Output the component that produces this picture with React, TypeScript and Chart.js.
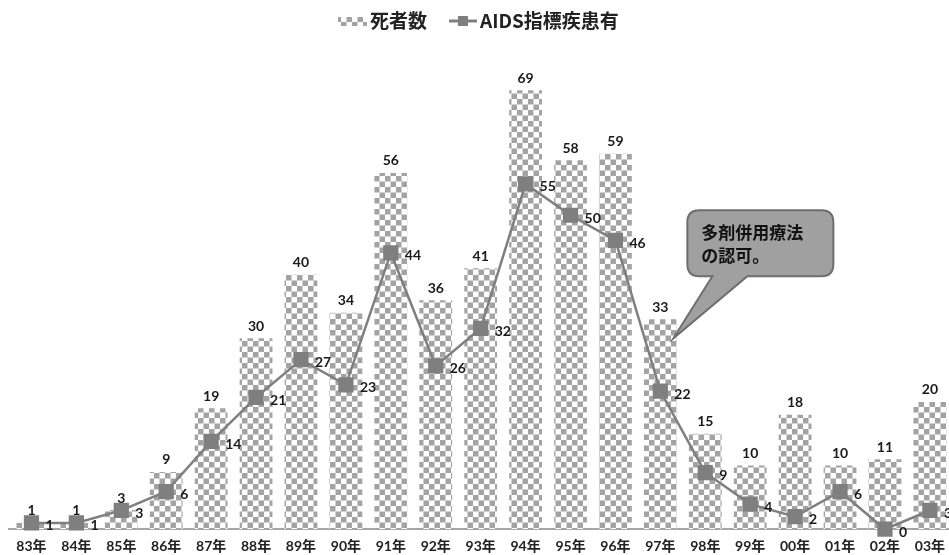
import React, { useEffect, useRef } from "react";
import { Chart, registerables } from "chart.js";

Chart.register(...registerables);

const categories = ["83年", "84年", "85年", "86年", "87年", "88年", "89年", "90年", "91年", "92年", "93年", "94年", "95年", "96年", "97年", "98年", "99年", "00年", "01年", "02年", "03年"];
const deaths = [1, 1, 3, 9, 19, 30, 40, 34, 56, 36, 41, 69, 58, 59, 33, 15, 10, 18, 10, 11, 20];
const aidsCases = [1, 1, 3, 6, 14, 21, 27, 23, 44, 26, 32, 55, 50, 46, 22, 9, 4, 2, 6, 0, 3];
const legendLabels = ["死者数", "AIDS指標疾患有"];
const calloutLines = ["多剤併用療法", "の認可。"];
const calloutIndex = 14;
const calloutValue = 30;

const FONT = "'Lato', 'Noto Sans CJK JP', sans-serif";
const CJK = "'Noto Sans CJK JP', 'Lato', sans-serif";
const GRAY = "#a3a3a3";
const LINE_GRAY = "#7f7f7f";

function makePattern(ctx: CanvasRenderingContext2D) {
  const c = document.createElement("canvas");
  c.width = 11;
  c.height = 11;
  const g = c.getContext("2d")!;
  g.fillStyle = "#ffffff";
  g.fillRect(0, 0, 11, 11);
  g.fillStyle = GRAY;
  g.fillRect(0, 0, 5.5, 5.5);
  g.fillRect(5.5, 5.5, 5.5, 5.5);
  return ctx.createPattern(c, "repeat")!;
}

export default function App() {
  const ref = useRef<HTMLCanvasElement>(null);

  useEffect(() => {
    const canvas = ref.current!;
    const ctx0 = canvas.getContext("2d")!;
    const pattern = makePattern(ctx0);

    const labelPlugin = {
      id: "labels",
      afterDatasetsDraw(chart: any) {
        const ctx = chart.ctx as CanvasRenderingContext2D;
        ctx.save();
        ctx.fillStyle = "#1a1a1a";
        ctx.font = `bold 14px ${FONT}`;
        const barMeta = chart.getDatasetMeta(1);
        barMeta.data.forEach((el: any, i: number) => {
          ctx.textAlign = "center";
          ctx.textBaseline = "bottom";
          ctx.fillText(String(deaths[i]), el.x, el.y - 5);
        });
        const lineMeta = chart.getDatasetMeta(0);
        lineMeta.data.forEach((el: any, i: number) => {
          ctx.textAlign = "left";
          ctx.textBaseline = "middle";
          ctx.fillText(String(aidsCases[i]), el.x + 14, el.y + 3);
        });
        ctx.restore();
      },
      afterDraw(chart: any) {
        const ctx = chart.ctx as CanvasRenderingContext2D;
        const xs = chart.scales.x;
        const ys = chart.scales.y;
        // callout
        const tipX = xs.getPixelForValue(calloutIndex) + 13;
        const tipY = ys.getPixelForValue(calloutValue);
        const bx = tipX + 14;
        const by = tipY - 128;
        const bw = 146;
        const bh = 66;
        const r = 12;
        const t1 = bx + 25;
        const t2 = bx + 60;
        ctx.save();
        ctx.beginPath();
        ctx.moveTo(bx + r, by);
        ctx.lineTo(bx + bw - r, by);
        ctx.quadraticCurveTo(bx + bw, by, bx + bw, by + r);
        ctx.lineTo(bx + bw, by + bh - r);
        ctx.quadraticCurveTo(bx + bw, by + bh, bx + bw - r, by + bh);
        ctx.lineTo(t2, by + bh);
        ctx.lineTo(tipX, tipY);
        ctx.lineTo(t1, by + bh);
        ctx.lineTo(bx + r, by + bh);
        ctx.quadraticCurveTo(bx, by + bh, bx, by + bh - r);
        ctx.lineTo(bx, by + r);
        ctx.quadraticCurveTo(bx, by, bx + r, by);
        ctx.closePath();
        ctx.fillStyle = "#a0a0a0";
        ctx.fill();
        ctx.lineWidth = 2;
        ctx.strokeStyle = "#6e6e6e";
        ctx.stroke();
        ctx.fillStyle = "#111";
        ctx.font = `bold 17px ${CJK}`;
        ctx.textAlign = "left";
        ctx.textBaseline = "middle";
        ctx.fillText(calloutLines[0], bx + 14, by + 22);
        ctx.fillText(calloutLines[1], bx + 14, by + 45);
        ctx.restore();

        // legend
        ctx.save();
        ctx.font = `bold 19px ${CJK}`;
        ctx.textBaseline = "middle";
        ctx.textAlign = "left";
        const cy = 21;
        let x = 338;
        ctx.fillStyle = pattern;
        ctx.fillRect(x, cy - 4, 29, 9);
        x += 32;
        ctx.fillStyle = "#222";
        ctx.fillText(legendLabels[0], x, cy);
        x += ctx.measureText(legendLabels[0]).width + 22;
        ctx.strokeStyle = LINE_GRAY;
        ctx.lineWidth = 3;
        ctx.beginPath();
        ctx.moveTo(x, cy);
        ctx.lineTo(x + 28, cy);
        ctx.stroke();
        ctx.fillStyle = LINE_GRAY;
        ctx.fillRect(x + 9, cy - 5, 10, 10);
        x += 31;
        ctx.fillStyle = "#222";
        ctx.fillText(legendLabels[1], x, cy);
        ctx.restore();
      },
    };

    const chart = new Chart(canvas, {
      type: "bar",
      data: {
        labels: categories,
        datasets: [
          {
            type: "line",
            label: legendLabels[1],
            data: aidsCases,
            yAxisID: "y1",
            borderColor: LINE_GRAY,
            backgroundColor: LINE_GRAY,
            borderWidth: 2.5,
            pointStyle: "rect",
            pointRadius: 9,
            pointBackgroundColor: LINE_GRAY,
            pointBorderColor: LINE_GRAY,
            tension: 0,
            clip: false,
            order: 1,
          } as any,
          {
            type: "bar",
            label: legendLabels[0],
            data: deaths,
            yAxisID: "y",
            backgroundColor: pattern as any,
            borderWidth: 0,
            categoryPercentage: 1,
            barPercentage: 0.73,
            order: 2,
          },
        ],
      },
      options: {
        animation: false,
        responsive: false,
        maintainAspectRatio: false,
        devicePixelRatio: 1,
        layout: { autoPadding: false, padding: { left: 9, right: 0, top: 52, bottom: -9 } } as any,
        plugins: {
          legend: { display: false },
          tooltip: { enabled: false },
        },
        scales: {
          x: {
            offset: true,
            grid: { display: false, drawTicks: false },
            border: { display: true, color: "#a6a6a6", width: 2 },
            ticks: {
              color: "#222",
              font: { family: FONT, size: 14, weight: "bold" },
              padding: 9,
              maxRotation: 0,
              autoSkip: false,
            },
          },
          y: {
            display: false,
            min: 0,
            max: 75,
          },
          y1: {
            display: false,
            min: 0,
            max: 76,
          },
        },
      },
      plugins: [labelPlugin],
    });
    return () => chart.destroy();
  }, []);

  return (
    <div style={{ position: "absolute", left: 0, top: 0, width: 949, height: 555, overflow: "hidden", background: "#fff" }}>
      <canvas ref={ref} width={954} height={555} style={{ display: "block", width: 954, height: 555 }} />
    </div>
  );
}
